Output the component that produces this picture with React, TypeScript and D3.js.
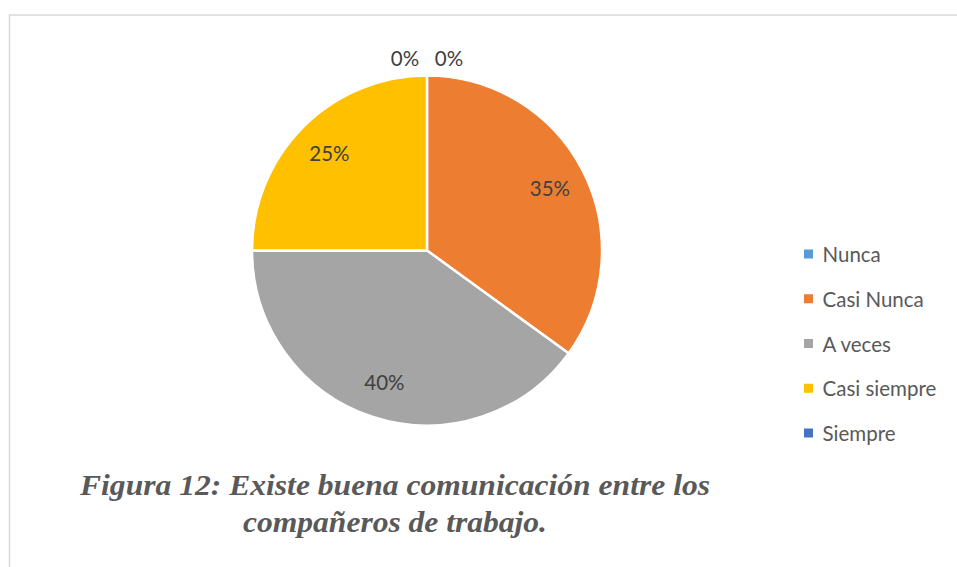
import React from "react";
import * as d3 from "d3";

const categories = ["Nunca", "Casi Nunca", "A veces", "Casi siempre", "Siempre"];
const values = [0, 35, 40, 25, 0];
const colors = ["#5B9BD5", "#ED7D31", "#A5A5A5", "#FFC000", "#4472C4"];
const captionLines = [
  "Figura 12: Existe buena comunicación entre los",
  "compañeros de trabajo.",
];

const W = 957;
const H = 567;
const cx = 427;
const cy = 250.5;
const R = 175;
const labelR = 138;

export default function App() {
  const pieGen = d3
    .pie<number>()
    .sort(null)
    .value((d) => d)
    .startAngle(0)
    .endAngle(2 * Math.PI);
  const arcs = pieGen(values);
  const arcGen = d3.arc<d3.PieArcDatum<number>>().innerRadius(0).outerRadius(R);
  const labelArc = d3
    .arc<d3.PieArcDatum<number>>()
    .innerRadius(labelR)
    .outerRadius(labelR);
  const total = d3.sum(values);
  const legendY = d3
    .scalePoint<string>()
    .domain(categories)
    .range([254, 433]);

  return (
    <svg
      width={W}
      height={H}
      style={{ position: "absolute", left: 0, top: 0, background: "#fff" }}
    >
      <rect x={9.5} y={15} width={W} height={H} fill="none" stroke="#d9d9d9" strokeWidth={1.5} />
      <g transform={`translate(${cx},${cy})`}>
        {arcs.map((a, i) =>
          a.value > 0 ? (
            <path key={i} d={arcGen(a) || ""} fill={colors[i]} stroke="#fff" strokeWidth={2.5} />
          ) : null
        )}
        {arcs.map((a, i) => {
          const pct = `${Math.round((a.value / total) * 100)}%`;
          let x: number, y: number;
          if (a.value > 0) {
            [x, y] = labelArc.centroid(a);
          } else {
            const ang = (a.startAngle + a.endAngle) / 2;
            x = Math.sin(ang) * (R + 18) + (i === 0 ? 22 : -22);
            y = -Math.cos(ang) * (R + 18);
          }
          return (
            <text
              key={"l" + i}
              x={x}
              y={y}
              textAnchor="middle"
              dominantBaseline="central"
              fontFamily="Lato, 'Noto Sans', sans-serif"
              fontSize={20.5}
              fill="#404040"
            >
              {pct}
            </text>
          );
        })}
      </g>
      {categories.map((c, i) => (
        <g key={"lg" + i} transform={`translate(0,${legendY(c)})`}>
          <rect x={804} y={-4.5} width={9} height={9} fill={colors[i]} />
          <text
            x={822.5}
            y={0}
            dominantBaseline="central"
            fontFamily="Lato, 'Noto Sans', sans-serif"
            fontSize={20.5}
            fill="#595959"
          >
            {c}
          </text>
        </g>
      ))}
      {captionLines.map((t, i) => (
        <text
          key={"c" + i}
          x={395}
          y={495 + i * 37}
          textAnchor="middle"
          fontFamily="'Liberation Serif', 'Times New Roman', serif"
          fontWeight="bold"
          fontStyle="italic"
          fontSize={29}
          fill="#595959"
          textLength={i === 0 ? 630 : 304}
          lengthAdjust="spacingAndGlyphs"
        >
          {t}
        </text>
      ))}
    </svg>
  );
}
